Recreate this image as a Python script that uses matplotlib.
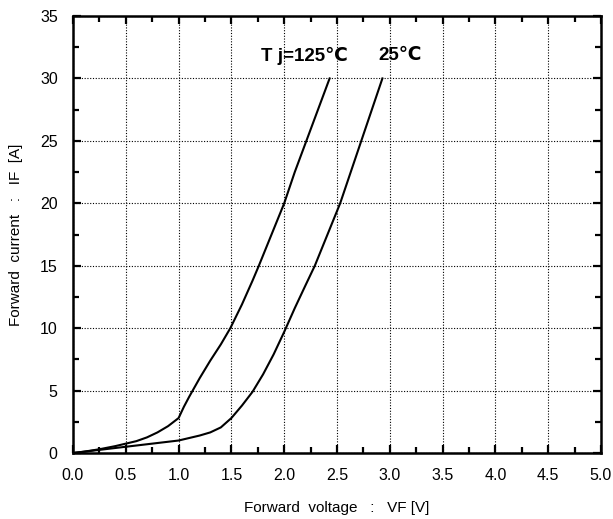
import matplotlib
matplotlib.use("Agg")
import matplotlib.pyplot as plt
from matplotlib.ticker import MultipleLocator

# Data
vf_125 = [0.0, 0.1, 0.25, 0.4, 0.5, 0.6, 0.7, 0.8, 0.9, 1.0, 1.05, 1.1, 1.2, 1.3, 1.4,
          1.49, 1.6, 1.7, 1.76, 1.88, 2.0, 2.1, 2.21, 2.32, 2.43]
if_125 = [0.0, 0.1, 0.3, 0.55, 0.75, 0.95, 1.25, 1.65, 2.15, 2.8, 3.7, 4.5, 6.0, 7.4, 8.7,
          10.0, 11.9, 13.8, 15.0, 17.5, 20.0, 22.5, 25.0, 27.5, 30.0]
vf_25 = [0.0, 0.25, 0.5, 0.75, 1.0, 1.1, 1.2, 1.3, 1.4, 1.5, 1.6, 1.7, 1.8, 1.9, 2.0,
         2.1, 2.2, 2.29, 2.41, 2.53, 2.63, 2.73, 2.83, 2.93]
if_25 = [0.0, 0.25, 0.5, 0.75, 1.0, 1.2, 1.4, 1.65, 2.05, 2.8, 3.8, 4.9, 6.3, 7.9, 9.7,
         11.6, 13.4, 15.0, 17.5, 20.0, 22.5, 25.0, 27.5, 30.0]

x_ticks = [0.0, 0.5, 1.0, 1.5, 2.0, 2.5, 3.0, 3.5, 4.0, 4.5, 5.0]
y_ticks = [0, 5, 10, 15, 20, 25, 30, 35]

plt.rcParams['font.family'] = ['Liberation Sans', 'DejaVu Sans']

fig = plt.figure(figsize=(6.13, 5.19), dpi=100)
ax = fig.add_axes([73 / 613, 1 - 453 / 519, (601 - 73) / 613, (453 - 16) / 519])

ax.plot(vf_125, if_125, color='black', lw=1.5)
ax.plot(vf_25, if_25, color='black', lw=1.5)

ax.set_xlim(0, 5)
ax.set_ylim(0, 35)
ax.set_xticks(x_ticks)
ax.set_xticklabels([f"{v:.1f}" for v in x_ticks])
ax.set_yticks(y_ticks)
ax.set_yticklabels([str(v) for v in y_ticks])
ax.xaxis.set_minor_locator(MultipleLocator(0.25))
ax.yaxis.set_minor_locator(MultipleLocator(2.5))

ax.tick_params(which='both', direction='in', top=True, right=True, width=1.6, colors='black')
ax.tick_params(which='major', length=6, labelsize=11.5, pad=11)
ax.tick_params(which='minor', length=4)

for s in ax.spines.values():
    s.set_linewidth(1.8)

ax.grid(True, which='major', color='black', linestyle=(0, (1, 1.5)), lw=0.8)

ax.set_xlabel("Forward  voltage   :   VF [V]", fontsize=11, labelpad=13)
ax.set_ylabel("Forward  current   :   IF  [A]", fontsize=11, labelpad=12)

ax.text(1.78, 31.8, "T j=125℃", fontsize=13.5, fontweight='bold',
        family=['Liberation Sans', 'DejaVu Sans'], ha='left', va='center')
ax.text(2.89, 31.8, "25℃", fontsize=13.5, fontweight='bold',
        family=['Liberation Sans', 'DejaVu Sans'], ha='left', va='center')

fig.savefig("out.png", dpi=100)
